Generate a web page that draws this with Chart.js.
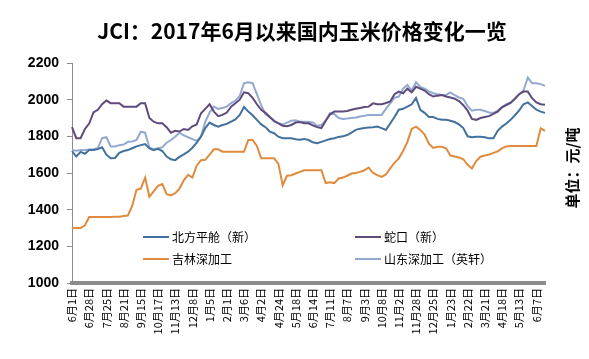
<!DOCTYPE html>
<html lang="zh">
<head>
    <meta charset="UTF-8">
    <title>JCI 玉米价格</title>
    <style>
        body { margin: 0; background: #ffffff; }
        #wrap { width: 589px; height: 359px; }
    </style>
</head>
<body>
    <div id="wrap"><canvas id="cornChart" width="589" height="359"></canvas></div>

    <script src="https://cdn.jsdelivr.net/npm/chart.js"></script>
    <script>
        // tick labels shown on the x axis (one every 4 samples)
        const tickLabels = ['6月1日','6月28日','7月25日','8月21日','9月15日','10月17日','11月13日','12月8日',
            '1月5日','2月1日','3月6日','4月2日','4月24日','5月18日','6月14日','7月11日','8月7日','9月3日',
            '10月8日','11月2日','11月28日','12月25日','1月23日','2月22日','3月21日','4月18日','5月13日','6月7日'];
        const samplesPerTick = 4;

        // 北方平舱（新）
        const northPort = [1720,1690,1715,1705,1725,1725,1730,1740,1700,1680,
            1682,1710,1720,1725,1735,1745,1752,1758,1734,1725,
            1732,1720,1690,1675,1670,1688,1702,1716,1738,1765,
            1798,1845,1875,1862,1853,1862,1868,1880,1892,1917,
            1960,1935,1915,1890,1865,1850,1826,1817,1798,1790,
            1789,1789,1784,1782,1786,1780,1768,1762,1770,1778,
            1785,1790,1797,1800,1807,1820,1835,1842,1845,1848,
            1850,1853,1845,1835,1870,1905,1945,1950,1962,1975,
            2010,1945,1928,1905,1905,1895,1890,1890,1885,1878,
            1865,1845,1800,1795,1798,1798,1795,1789,1790,1830,
            1853,1870,1890,1915,1942,1975,1985,1965,1945,1935,1928];

        // 蛇口（新）
        const shekou = [1850,1790,1790,1840,1870,1930,1945,1975,1995,1981,
            1981,1981,1962,1962,1962,1962,1981,1981,1900,1880,
            1871,1871,1850,1820,1830,1826,1840,1835,1855,1865,
            1926,1950,1975,1935,1910,1917,1930,1962,1980,2000,
            2040,2035,2010,1975,1945,1928,1905,1885,1871,1858,
            1855,1862,1875,1878,1871,1871,1860,1850,1845,1885,
            1920,1935,1935,1935,1938,1945,1950,1955,1960,1962,
            1980,1975,1975,1982,1990,2030,2044,2035,2060,2040,
            2070,2060,2050,2030,2017,2022,2025,2017,2012,2005,
            1992,1970,1940,1895,1890,1900,1905,1910,1922,1935,
            1958,1970,1982,2005,2030,2044,2044,2008,1985,1975,1972];

        // 吉林深加工
        const jilin = [1300,1300,1300,1315,1360,1360,1360,1360,1360,1360,
            1362,1362,1365,1368,1420,1508,1515,1575,1470,1500,
            1530,1540,1485,1478,1490,1515,1560,1590,1575,1640,
            1670,1672,1700,1729,1729,1716,1716,1716,1716,1716,
            1716,1780,1780,1748,1680,1680,1680,1680,1650,1533,
            1585,1588,1597,1606,1615,1615,1615,1615,1615,1545,
            1550,1545,1570,1575,1585,1597,1600,1606,1615,1630,
            1600,1588,1579,1592,1625,1655,1680,1720,1770,1840,
            1853,1835,1810,1760,1737,1743,1743,1735,1695,1690,
            1685,1675,1645,1625,1665,1689,1695,1700,1710,1718,
            1734,1745,1747,1747,1747,1747,1747,1747,1747,1844,1830];

        // 山东深加工（英轩）
        const shandong = [1725,1722,1725,1725,1728,1730,1735,1790,1795,1745,
            1745,1752,1755,1770,1772,1780,1825,1820,1738,1730,
            1735,1740,1765,1780,1798,1820,1805,1795,1785,1775,
            1800,1880,1930,1962,1950,1955,1962,1981,1995,2020,
            2090,2095,2090,2030,1970,1920,1905,1880,1872,1865,
            1875,1885,1888,1880,1880,1880,1876,1858,1862,1885,
            1925,1922,1900,1895,1897,1900,1903,1908,1912,1917,
            1917,1917,1917,1950,1980,2010,2017,2060,2080,2050,
            2095,2070,2060,2045,2035,2030,2026,2026,2040,2025,
            2012,2005,1965,1940,1945,1945,1938,1930,1928,1940,
            1960,1975,1985,2005,2030,2050,2120,2090,2090,2085,2075];

        // one category per sample, labelled every samplesPerTick
        const labels = northPort.map((v, i) => i % samplesPerTick === 0 ? tickLabels[i / samplesPerTick] : '');

        const cjk = '"Noto Sans CJK SC", "Noto Sans", sans-serif';

        // title, unit text and the in-plot legend
        const decorPlugin = {
            id: 'decor',
            afterDraw(chart) {
                const ctx = chart.ctx;
                ctx.save();
                ctx.fillStyle = '#000';
                ctx.font = 'bold 21px ' + cjk;
                ctx.textAlign = 'center';
                ctx.textBaseline = 'middle';
                ctx.fillText('JCI：2017年6月以来国内玉米价格变化一览', 302, 31);

                ctx.translate(572, 168);
                ctx.rotate(-Math.PI / 2);
                ctx.font = 'bold 15px ' + cjk;
                ctx.fillText('单位：元/吨', 0, 0);
                ctx.restore();

                const spots = [[143, 237], [355, 237], [143, 259], [355, 259]];
                ctx.save();
                ctx.font = '12px ' + cjk;
                ctx.textBaseline = 'middle';
                chart.data.datasets.forEach((ds, k) => {
                    const [x, y] = spots[k];
                    ctx.strokeStyle = ds.borderColor;
                    ctx.lineWidth = 2;
                    ctx.beginPath();
                    ctx.moveTo(x, y);
                    ctx.lineTo(x + 26, y);
                    ctx.stroke();
                    ctx.fillStyle = '#000';
                    ctx.fillText(ds.label, x + 29, y);
                });
                ctx.restore();
            }
        };

        const lineStyle = { pointRadius: 0, borderWidth: 2, tension: 0, fill: false };

        new Chart(document.getElementById('cornChart').getContext('2d'), {
            type: 'line',
            data: {
                labels: labels,
                datasets: [
                    { label: '北方平舱（新）', data: northPort, borderColor: '#41719c', ...lineStyle },
                    { label: '蛇口（新）', data: shekou, borderColor: '#5e4b7c', ...lineStyle },
                    { label: '吉林深加工', data: jilin, borderColor: '#e08a3e', ...lineStyle },
                    { label: '山东深加工（英轩）', data: shandong, borderColor: '#93a9cf', ...lineStyle }
                ]
            },
            options: {
                responsive: false,
                animation: false,
                layout: { padding: { left: 20, right: 44, top: 63, bottom: 0 } },
                plugins: { legend: { display: false }, tooltip: { enabled: false } },
                scales: {
                    x: {
                        grid: { display: false, drawTicks: false },
                        border: { display: true, color: '#8c8c8c', width: 4 },
                        ticks: {
                            autoSkip: false, minRotation: 90, maxRotation: 90, padding: 5,
                            color: '#000', font: { family: cjk, size: 11 }
                        },
                        afterFit: s => { s.height = 76; }
                    },
                    y: {
                        min: 1000, max: 2200,
                        grid: { drawOnChartArea: false, drawTicks: true, tickLength: 5, color: '#8c8c8c' },
                        border: { display: true, color: '#8c8c8c', width: 1 },
                        ticks: {
                            stepSize: 200, padding: 8, color: '#000',
                            callback: v => String(v),
                            font: { family: 'Arial, "Liberation Sans", sans-serif', size: 14, weight: 'bold' }
                        },
                        afterFit: s => { s.width = 52; }
                    }
                }
            },
            plugins: [decorPlugin]
        });
    </script>
</body>
</html>
